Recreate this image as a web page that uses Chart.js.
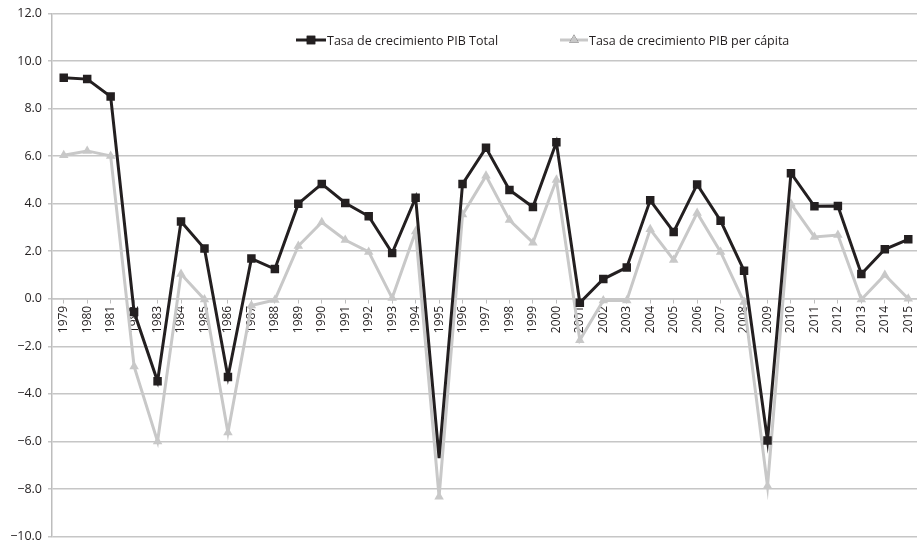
<!DOCTYPE html>
<html>
<head>
<meta charset="utf-8">
<script src="https://cdn.jsdelivr.net/npm/chart.js@4/dist/chart.umd.min.js"></script>
<style>
  html, body { margin: 0; padding: 0; background: #fff; overflow: hidden; }
  #wrap { width: 926px; height: 550px; }
</style>
</head>
<body>
<div id="wrap"><canvas id="chart"></canvas></div>
<script>
'use strict';

let years = [];
for (let y = 1979; y <= 2015; y++) years.push(String(y));

let pibTotal = [9.30, 9.24, 8.51, -0.56, -3.47, 3.25, 2.11, -3.29, 1.69, 1.25,
  4.00, 4.83, 4.03, 3.47, 1.92, 4.25, -6.70, 4.83, 6.35, 4.58,
  3.86, 6.58, -0.17, 0.83, 1.32, 4.14, 2.81, 4.81, 3.28, 1.18,
  -5.96, 5.28, 3.89, 3.90, 1.04, 2.08, 2.50];

let pibPerCapita = [6.04, 6.22, 6.01, -2.85, -6.00, 1.04, -0.03, -5.63, -0.28, -0.05,
  2.22, 3.22, 2.47, 1.97, 0.03, 2.83, -8.33, 3.54, 5.17, 3.31,
  2.36, 5.00, -1.74, -0.07, -0.07, 2.92, 1.63, 3.61, 1.97, -0.14,
  -7.88, 4.00, 2.60, 2.68, -0.03, 1.00, 0.00];

let seriesNames = ['Tasa de crecimiento PIB Total', 'Tasa de crecimiento PIB per cápita'];

const darkColor = '#231f20';
const lightColor = '#c8c8c8';
const fontFamily = '"Open Sans", "DejaVu Sans", sans-serif';

// legend drawn inside the plot, line + marker + label
const insideLegend = {
  id: 'insideLegend',
  afterDraw(chart) {
    const ctx = chart.ctx;
    const y = 40;
    const items = [
      { x1: 296, x2: 326, color: darkColor, style: 'rect', r: 6, label: seriesNames[0] },
      { x1: 560, x2: 588, color: lightColor, style: 'triangle', r: 5.5, label: seriesNames[1] }
    ];
    ctx.save();
    items.forEach(it => {
      ctx.strokeStyle = it.color;
      ctx.lineWidth = 3;
      ctx.beginPath();
      ctx.moveTo(it.x1, y);
      ctx.lineTo(it.x2, y);
      ctx.stroke();
      Chart.helpers.drawPoint(ctx, { pointStyle: it.style, radius: it.r, borderWidth: 0 }, (it.x1 + it.x2) / 2, y);
      ctx.fillStyle = it.color;
      ctx.fill();
      ctx.fillStyle = darkColor;
      ctx.font = '12.5px ' + fontFamily;
      ctx.textBaseline = 'middle';
      ctx.textAlign = 'left';
      ctx.fillText(it.label, it.x2 + 1, y + 1);
    });
    ctx.restore();
  }
};

new Chart(document.getElementById('chart'), {
  type: 'line',
  data: {
    labels: years,
    datasets: [{
      label: seriesNames[0],
      data: pibTotal,
      borderColor: darkColor,
      backgroundColor: darkColor,
      borderWidth: 3,
      pointStyle: 'rect',
      // the 1995 point has no visible marker in the original
      pointRadius: c => (years[c.dataIndex] === '1995' ? 0 : 6),
      pointBorderWidth: 0,
      tension: 0
    }, {
      label: seriesNames[1],
      data: pibPerCapita,
      borderColor: lightColor,
      backgroundColor: lightColor,
      borderWidth: 3,
      pointStyle: 'triangle',
      pointRadius: 5.5,
      pointBorderWidth: 0,
      tension: 0
    }]
  },
  options: {
    responsive: true,
    maintainAspectRatio: false,
    animation: false,
    layout: { padding: { top: 12, bottom: 7, left: 0, right: 0 } },
    plugins: {
      legend: { display: false },
      tooltip: { enabled: false }
    },
    scales: {
      x: {
        position: { y: 0 },
        offset: true,
        afterFit(scale) { scale.height = 0; },
        grid: {
          display: true,
          drawOnChartArea: false,
          drawTicks: true,
          tickLength: 4,
          color: '#bdbdbd',
          lineWidth: 1
        },
        border: { display: true, color: '#c6c6c6', width: 1.5 },
        ticks: {
          autoSkip: false,
          minRotation: 90,
          maxRotation: 90,
          padding: 3,
          color: darkColor,
          font: { family: fontFamily, size: 12 }
        }
      },
      y: {
        min: -10,
        max: 12,
        afterFit(scale) { scale.width = 52; },
        grid: {
          color: '#c6c6c6',
          lineWidth: 1.5,
          tickLength: 4
        },
        border: { display: true, color: '#bdbdbd', width: 1.5 },
        ticks: {
          stepSize: 2,
          padding: 6,
          color: darkColor,
          font: { family: fontFamily, size: 12.5 },
          callback: v => (v < 0 ? '\u2212' + Math.abs(v).toFixed(1) : v.toFixed(1))
        }
      }
    }
  },
  plugins: [insideLegend]
});
</script>
</body>
</html>
